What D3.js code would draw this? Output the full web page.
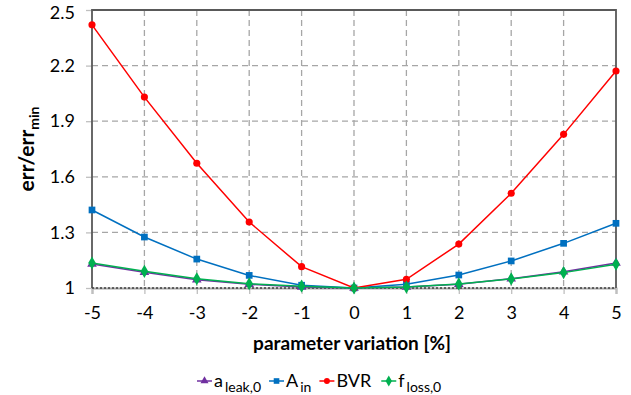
<!DOCTYPE html>
<html>
<head>
<meta charset="utf-8">
<script src="https://cdn.jsdelivr.net/npm/d3@7"></script>
<style>
  body { margin: 0; background: #fff; }
  svg { font-family: Lato, 'Open Sans', sans-serif; }
</style>
</head>
<body>
<svg id="chart" width="631" height="395"></svg>
<script>
const xValues = [-5, -4, -3, -2, -1, 0, 1, 2, 3, 4, 5];
const yTicks = [1, 1.3, 1.6, 1.9, 2.2, 2.5];

const aLeak = [1.13, 1.085, 1.045, 1.02, 1.005, 1, 1.005, 1.02, 1.05, 1.088, 1.135];
const aIn = [1.421, 1.275, 1.156, 1.068, 1.015, 1, 1.02, 1.07, 1.146, 1.241, 1.349];
const bvr = [2.42, 2.03, 1.673, 1.356, 1.115, 1, 1.047, 1.237, 1.511, 1.829, 2.171];
const fLoss = [1.135, 1.09, 1.05, 1.023, 1.01, 1, 1.005, 1.022, 1.049, 1.083, 1.128];

const series = [
  { name: 'a', sub: 'leak,0', values: aLeak, color: '#7030A0', shape: d3.symbolTriangle, size: 40 },
  { name: 'A', sub: 'in', values: aIn, color: '#0070C0', shape: d3.symbolSquare, size: 45 },
  { name: 'BVR', sub: '', values: bvr, color: '#FF0000', shape: d3.symbolCircle, size: 40 },
  { name: 'f', sub: 'loss,0', values: fLoss, color: '#00B050', shape: d3.symbolDiamond, size: 50 },
];

const svg = d3.select('#chart');
const plot = { left: 92, right: 616, top: 10, bottom: 288 };

const x = d3.scaleLinear().domain([-5, 5]).range([plot.left, plot.right]);
const y = d3.scaleLinear().domain([1, 2.5]).range([plot.bottom, plot.top]);

const GRID = '#A6A6A6';
const BORDER = '#595959';

// grid
svg.append('g')
  .selectAll('line')
  .data(yTicks.slice(1, -1))
  .join('line')
  .attr('x1', plot.left).attr('x2', plot.right)
  .attr('y1', d => y(d)).attr('y2', d => y(d))
  .attr('stroke', GRID).attr('stroke-width', 1.3)
  .attr('stroke-dasharray', '6,4');

svg.append('g')
  .selectAll('line')
  .data(xValues.slice(1, -1))
  .join('line')
  .attr('x1', d => x(d)).attr('x2', d => x(d))
  .attr('y1', plot.top).attr('y2', plot.bottom)
  .attr('stroke', GRID).attr('stroke-width', 1.3)
  .attr('stroke-dasharray', '6,4');

// axes
const xAxis = svg.append('g')
  .attr('transform', `translate(0,${plot.bottom})`)
  .call(d3.axisBottom(x).tickValues(xValues).tickSize(6).tickPadding(12).tickFormat(d => String(d)));
xAxis.select('.domain').attr('stroke', GRID).attr('stroke-width', 2);
xAxis.selectAll('.tick line').attr('stroke', '#BFBFBF').attr('stroke-width', 1.3);
xAxis.selectAll('text').attr('font-size', 18).attr('fill', '#000')
  .style('font-family', 'Lato, sans-serif');

const yAxis = svg.append('g')
  .attr('transform', `translate(${plot.left},0)`)
  .call(d3.axisLeft(y).tickValues(yTicks).tickSize(6).tickPadding(11).tickFormat(d => d === 1 ? '1' : d3.format('.1f')(d)));
yAxis.select('.domain').remove();
yAxis.selectAll('.tick line').attr('stroke', '#BFBFBF').attr('stroke-width', 1.3);
yAxis.selectAll('text').attr('font-size', 18).attr('fill', '#000')
  .style('font-family', 'Lato, sans-serif');
// keep the top label inside the page
yAxis.selectAll('.tick text').filter(d => d === 2.5).attr('y', 3);

// frame
svg.append('path')
  .attr('d', `M${plot.left},${plot.bottom}V${plot.top}H${plot.right}V${plot.bottom}`)
  .attr('fill', 'none').attr('stroke', BORDER).attr('stroke-width', 1.8);
svg.append('line')
  .attr('x1', plot.left).attr('x2', plot.right)
  .attr('y1', plot.bottom).attr('y2', plot.bottom)
  .attr('stroke', '#404040').attr('stroke-width', 1.3)
  .attr('stroke-dasharray', '2,2');

// lines + markers
const line = d3.line().x((d, i) => x(xValues[i])).y(d => y(d));

series.forEach(s => {
  const g = svg.append('g');
  g.append('path')
    .datum(s.values)
    .attr('d', line)
    .attr('fill', 'none')
    .attr('stroke', s.color)
    .attr('stroke-width', 1.5);
  g.selectAll('path.mark')
    .data(s.values)
    .join('path')
    .attr('class', 'mark')
    .attr('d', d3.symbol().type(s.shape).size(s.size))
    .attr('transform', (d, i) => `translate(${x(xValues[i])},${y(d)})`)
    .attr('fill', s.color);
});

// axis titles
svg.append('text')
  .attr('x', (plot.left + plot.right) / 2 - 2)
  .attr('y', 350)
  .attr('text-anchor', 'middle')
  .attr('font-size', 19)
  .attr('font-weight', 'bold')
  .text('parameter variation [%]');

const yTitle = svg.append('text')
  .attr('transform', `translate(34,${149}) rotate(-90)`)
  .attr('text-anchor', 'middle')
  .attr('font-size', 21)
  .attr('font-weight', 'bold');
yTitle.append('tspan').text('err/err');
yTitle.append('tspan').attr('font-size', 14).attr('dy', 5).text('min');

// legend, laid out left to right
const legend = svg.append('g').attr('transform', 'translate(197,381)');
let cursor = 0;
series.forEach(s => {
  const g = legend.append('g').attr('transform', `translate(${cursor},0)`);
  g.append('line')
    .attr('x1', 0).attr('x2', 15)
    .attr('stroke', s.color).attr('stroke-width', 1.5);
  g.append('path')
    .attr('d', d3.symbol().type(s.shape).size(s.size * 0.7))
    .attr('transform', 'translate(7.5,0)')
    .attr('fill', s.color);
  const t = g.append('text')
    .attr('x', 17).attr('y', 6)
    .attr('font-size', 18);
  t.append('tspan').text(s.name);
  if (s.sub) {
    t.append('tspan').attr('font-size', 14).attr('dx', 2).attr('dy', 5).text(s.sub);
  }
  cursor += 17 + t.node().getComputedTextLength() + 10;
});
</script>
</body>
</html>
